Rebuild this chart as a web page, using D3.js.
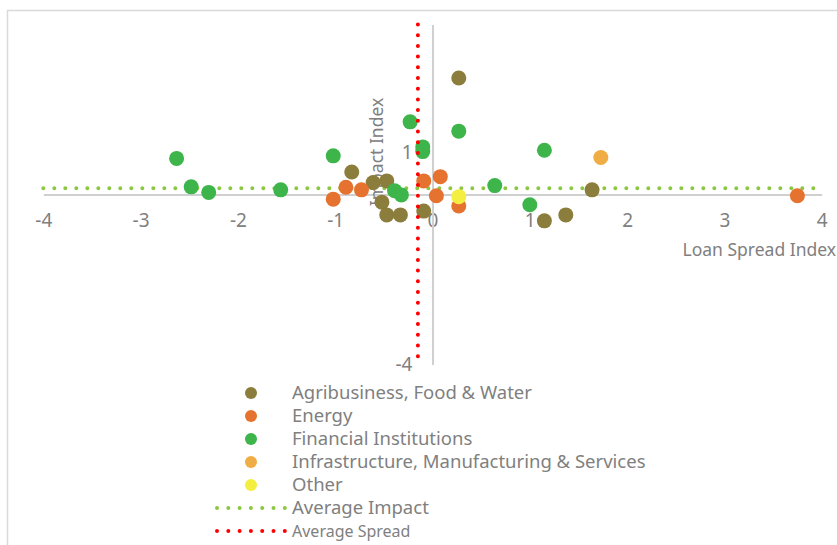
<!DOCTYPE html>
<html>
<head>
<meta charset="utf-8">
<script src="https://cdn.jsdelivr.net/npm/d3@7"></script>
<style>
  body { margin: 0; background: #fff; }
  text { font-family: "Noto Sans", sans-serif; fill: #808080; }
</style>
</head>
<body>
<div id="chart"></div>
<script>
// series: [loan spread index, impact index]
var agribusiness = [[0.27, 2.74], [-0.83, 0.53], [-0.61, 0.28], [-0.47, 0.32], [-0.52, -0.18],
  [-0.47, -0.48], [-0.33, -0.48], [-0.09, -0.39], [1.15, -0.62], [1.37, -0.48], [1.64, 0.11]];
var energy = [[-1.02, -0.11], [-0.89, 0.17], [-0.73, 0.11], [-0.09, 0.32], [0.08, 0.42],
  [0.04, -0.03], [0.27, -0.27], [3.75, -0.03]];
var financial = [[-2.63, 0.85], [-2.48, 0.18], [-2.30, 0.05], [-1.56, 0.11], [-1.02, 0.91],
  [-0.23, 1.71], [-0.39, 0.09], [-0.32, -0.01], [0.27, 1.49], [-0.10, 1.12], [-0.10, 1.01],
  [1.15, 1.04], [0.64, 0.21], [1.00, -0.24]];
var infrastructure = [[1.73, 0.87]];
var other = [[0.27, -0.05]];

var seriesNames = ["Agribusiness, Food & Water", "Energy", "Financial Institutions",
  "Infrastructure, Manufacturing & Services", "Other"];
var seriesColors = ["#8b7d3b", "#e5722f", "#3db54a", "#f0ad45", "#f3ee3f"];

var averageImpact = 0.15;
var averageSpread = -0.15;

var xTicks = [-4, -3, -2, -1, 0, 1, 2, 3, 4];
var yTicks = [-4, 1];

var svgWidth = 837;
var svgHeight = 545;

var svg = d3.select("#chart")
  .append("svg")
  .attr("width", svgWidth)
  .attr("height", svgHeight);

// chart border (runs off the right / bottom edge)
svg.append("rect")
  .attr("x", 7.5)
  .attr("y", 10.5)
  .attr("width", 850)
  .attr("height", 560)
  .attr("fill", "none")
  .attr("stroke", "#d9d9d9")
  .attr("stroke-width", 1.5);

var x = d3.scaleLinear().domain([-4, 4]).range([43.3, 821.7]);
var y = d3.scaleLinear().domain([-4, 4]).range([364.5, 24.5]);

// plain hyphen minus like the original
var fmt = d => String(d);

// horizontal axis at y = 0
var xAxis = svg.append("g")
  .attr("transform", `translate(0, ${y(0)})`)
  .call(d3.axisBottom(x).tickValues(xTicks).tickSize(0).tickPadding(19).tickFormat(fmt));
xAxis.select(".domain").attr("stroke", "#d0d0d0").attr("stroke-width", 2);
xAxis.selectAll("text").attr("font-size", 19).attr("fill", "#808080")
  .attr("font-family", "Noto Sans, sans-serif");

// vertical axis at x = 0
var yAxis = svg.append("g")
  .attr("transform", `translate(${x(0)}, 0)`)
  .call(d3.axisLeft(y).tickValues(yTicks).tickSize(0).tickPadding(20).tickFormat(fmt));
yAxis.select(".domain").attr("stroke", "#d0d0d0").attr("stroke-width", 2);
yAxis.selectAll("text").attr("font-size", 19).attr("fill", "#808080")
  .attr("font-family", "Noto Sans, sans-serif");

// axis titles
svg.append("text")
  .attr("transform", `translate(383, ${y(1)}) rotate(-90)`)
  .attr("text-anchor", "middle")
  .attr("font-size", 17.5)
  .text("Impact Index");

svg.append("text")
  .attr("x", 836)
  .attr("y", 256)
  .attr("text-anchor", "end")
  .attr("font-size", 17.5)
  .text("Loan Spread Index");

// average lines
svg.append("line")
  .attr("x1", x(-4)).attr("x2", x(4))
  .attr("y1", y(averageImpact)).attr("y2", y(averageImpact))
  .attr("stroke", "#8cc83f")
  .attr("stroke-width", 4)
  .attr("stroke-linecap", "round")
  .attr("stroke-dasharray", "0 11");

// points
var allSeries = [agribusiness, energy, financial, infrastructure, other];
allSeries.forEach(function(data, i) {
  svg.append("g")
    .selectAll("circle")
    .data(data)
    .enter()
    .append("circle")
    .attr("cx", d => x(d[0]))
    .attr("cy", d => y(d[1]))
    .attr("r", 7.5)
    .attr("fill", seriesColors[i]);
});

svg.append("line")
  .attr("x1", x(averageSpread)).attr("x2", x(averageSpread))
  .attr("y1", y(4)).attr("y2", y(-4))
  .attr("stroke", "#ff0000")
  .attr("stroke-width", 4)
  .attr("stroke-linecap", "round")
  .attr("stroke-dasharray", "0 10.7");

// legend
var legend = svg.append("g");
var rowY = d3.range(7).map(i => 393 + i * 23);

seriesNames.forEach(function(name, i) {
  legend.append("circle")
    .attr("cx", 251)
    .attr("cy", rowY[i])
    .attr("r", 6)
    .attr("fill", seriesColors[i]);
  legend.append("text")
    .attr("x", 292)
    .attr("y", rowY[i])
    .attr("dy", "0.35em")
    .attr("font-size", 18.5)
    .text(name);
});

var lineItems = [
  {name: "Average Impact", color: "#8cc83f", size: 18.5},
  {name: "Average Spread", color: "#ff0000", size: 16}
];
lineItems.forEach(function(item, j) {
  var ly = rowY[5 + j];
  legend.append("line")
    .attr("x1", 217).attr("x2", 286)
    .attr("y1", ly).attr("y2", ly)
    .attr("stroke", item.color)
    .attr("stroke-width", 4)
    .attr("stroke-linecap", "round")
    .attr("stroke-dasharray", "0 11.3");
  legend.append("text")
    .attr("x", 292)
    .attr("y", ly)
    .attr("dy", "0.35em")
    .attr("font-size", item.size)
    .text(item.name);
});
</script>
</body>
</html>
